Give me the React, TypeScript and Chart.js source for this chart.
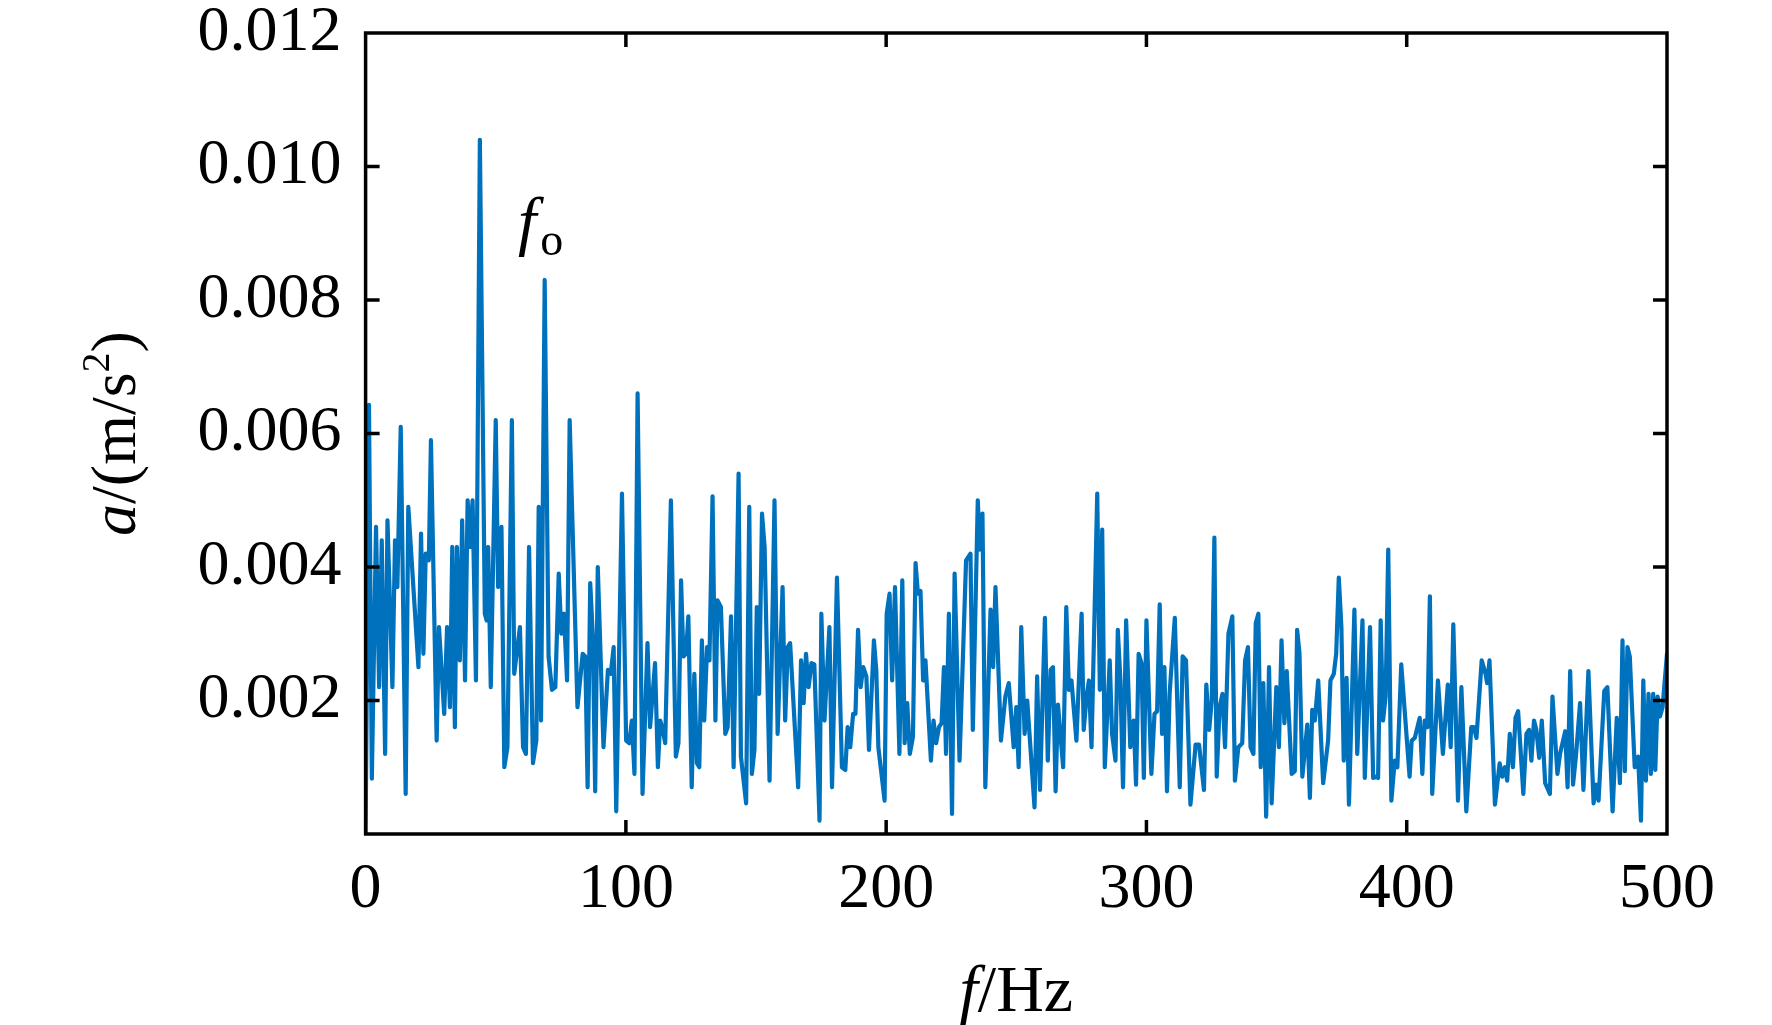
import { useEffect, useRef } from "react"
import { Chart, registerables } from "chart.js"

Chart.register(...registerables)

// Spectrum, in segments. Frequencies in Hz, amplitudes in 1e-3 m/s^2
const hzA = [
  0, 1.3, 2.4, 4.0, 5.2, 6.2, 7.5, 8.4, 10.3, 11.3,
  12.2, 13.5, 15.4, 16.4, 20.3, 21.3, 22.2, 23.1, 24.3, 25.1,
  27.3, 28.2, 30.2, 31.3, 32.4, 33.3, 34.3, 35.1, 36.2, 37.1,
  38.2, 39.2, 40.1, 41.1, 42.4, 43.9, 45.8, 46.5, 47.1, 48.1,
  50.0, 50.9, 52.2, 53.3, 54.5, 56.2, 57.1, 59.3, 60.5, 61.6,
  62.8,
]
const ampA = [
  0, 6.43, 0.83, 4.6, 2.2, 4.4, 1.2, 4.7, 2.2, 4.4,
  3.7, 6.1, 0.6, 4.9, 2.5, 4.5, 2.7, 4.2, 4.1, 5.9,
  1.4, 3.1, 1.8, 3.1, 1.9, 4.3, 1.6, 4.3, 2.6, 4.7,
  2.3, 5.0, 4.3, 5.0, 2.3, 10.4, 3.3, 3.2, 4.3, 2.2,
  6.2, 3.7, 4.6, 1.0, 1.3, 6.2, 2.4, 3.1, 1.3, 1.2,
  4.3,
]
const hzB = [
  64.3, 65.6, 66.5, 67.4, 68.8, 70.3, 71.6, 72.9, 74.2, 75.2,
  76.2, 77.4, 78.4, 81.4, 83.4, 84.4, 85.3, 86.3, 87.3, 88.2,
  89.2, 91.4, 93.1, 94.2, 95.3, 96.3, 98.5, 100.1, 101.3, 102.3,
  103.3, 104.5, 106.4, 108.3, 109.3, 111.2, 112.3, 113.2, 114.2, 115.1,
  117.3, 119.2, 120.2, 121.2, 122.1, 123.1, 124.0, 125.3, 126.3,
]
const ampB = [
  1.06, 1.4, 4.9, 1.7, 8.3, 2.66, 2.16, 2.2, 3.9, 3.0,
  3.3, 2.3, 6.2, 1.9, 2.7, 2.66, 0.7, 3.76, 2.96, 0.64,
  4.0, 1.3, 2.46, 2.4, 2.8, 0.34, 5.1, 1.4, 1.36, 1.7,
  0.9, 6.6, 0.6, 2.86, 1.6, 2.56, 1.0, 1.7, 1.56, 1.36,
  5.0, 1.16, 1.36, 3.8, 2.66, 2.7, 3.26, 0.7, 2.4,
]
const hzC = [
  127.3, 128.2, 129.2, 130.1, 131.2, 132.1, 133.3, 134.4, 135.2, 136.5,
  138.2, 139.1, 140.4, 141.4, 143.3, 144.2, 146.2, 147.4, 148.4, 149.4,
  150.3, 151.2, 152.3, 153.3, 155.2, 157.1, 158.3, 160.2, 161.2, 162.2,
  163.1, 166.2, 167.3, 168.3, 169.2, 170.2, 171.3, 172.4, 174.4, 175.1,
  176.3, 178.2, 179.2, 181.1, 183.0, 184.3, 185.2, 186.2, 187.3, 188.2,
  189.2, 190.2,
]
const ampC = [
  1.06, 1.0, 2.9, 1.7, 2.8, 2.6, 5.06, 1.7, 3.5, 3.4,
  1.5, 1.6, 3.26, 1.0, 5.4, 1.16, 0.46, 4.9, 0.9, 1.26,
  3.4, 2.1, 4.8, 4.3, 0.8, 5.0, 1.5, 3.7, 1.7, 2.8,
  2.86, 0.7, 2.6, 1.96, 2.7, 2.2, 2.56, 2.54, 0.2, 3.3,
  1.7, 3.1, 0.7, 3.84, 1.0, 0.96, 1.6, 1.3, 1.8, 1.8,
  3.06, 2.2,
]
const hzD = [
  191.2, 192.4, 193.4, 195.3, 196.2, 197.0, 199.4, 200.2, 201.3, 202.3,
  203.4, 205.1, 206.2, 207.1, 208.1, 209.1, 210.3, 211.3, 212.2, 213.2,
  214.2, 215.1, 217.2, 218.2, 219.2, 220.3, 221.3, 222.2, 223.0, 224.1,
  225.3, 226.3, 228.2, 230.7, 232.4, 233.3, 235.2, 236.0, 237.0, 238.1,
  240.1, 241.1, 242.0, 244.1, 245.8, 247.1, 249.0, 250.0, 250.9, 251.9,
]
const ampD = [
  2.5, 2.36, 1.26, 2.9, 2.46, 1.3, 0.5, 3.3, 3.6, 2.3,
  3.7, 1.2, 3.8, 1.36, 1.96, 1.2, 1.46, 4.06, 3.6, 3.64,
  2.3, 2.6, 1.1, 1.7, 1.36, 1.6, 1.66, 2.5, 1.2, 3.3,
  0.3, 3.9, 1.1, 4.1, 4.2, 1.56, 5.0, 4.26, 4.8, 0.7,
  3.36, 2.5, 3.7, 1.4, 2.06, 2.26, 1.3, 1.9, 1.0, 3.1,
]
const hzE = [
  253.2, 254.2, 257.0, 258.0, 259.1, 261.0, 262.1, 263.2, 264.1, 265.1,
  266.0, 268.0, 269.2, 270.2, 271.2, 273.1, 275.1, 275.9, 277.0, 277.9,
  278.9, 281.1, 282.1, 283.0, 284.0, 285.9, 286.8, 288.1, 289.0, 290.0,
  291.0, 292.2, 293.8, 295.1, 296.0, 297.0, 298.1, 299.0, 300.0, 301.9,
  303.1, 304.1, 305.1, 306.0, 306.9, 307.9, 308.9, 310.9, 312.8, 313.9,
  315.2,
]
const ampE = [
  1.5, 2.0, 0.4, 2.36, 0.66, 3.24, 1.1, 2.46, 2.5, 0.64,
  1.94, 1.0, 3.4, 2.16, 2.3, 1.4, 3.3, 1.56, 2.06, 2.3,
  1.3, 5.1, 2.16, 4.56, 1.0, 2.6, 1.5, 1.1, 3.06, 2.3,
  0.7, 3.2, 1.3, 1.7, 0.74, 2.7, 2.56, 0.84, 3.2, 0.9,
  1.8, 1.84, 3.44, 1.5, 2.5, 0.64, 2.1, 3.24, 0.7, 2.66,
  2.6,
]
const hzF = [
  316.9, 318.9, 320.2, 322.1, 323.0, 324.1, 325.1, 326.1, 327.0, 328.1,
  329.2, 330.2, 331.5, 333.0, 334.0, 335.3, 336.8, 337.9, 339.0, 340.0,
  341.1, 342.0, 343.0, 343.9, 344.9, 346.0, 347.1, 348.1, 349.9, 350.9,
  351.9, 353.0, 353.9, 355.8, 357.0, 357.9, 358.8, 359.9, 361.8, 362.8,
  363.7, 364.7, 366.0, 367.9, 369.8, 370.7, 372.0, 372.9, 373.9, 374.9,
  375.8, 376.9, 377.8, 379.9, 381.0,
]
const ampF = [
  0.44, 1.34, 1.34, 0.66, 2.24, 1.56, 2.0, 4.44, 0.86, 1.9,
  2.1, 1.3, 3.0, 3.26, 0.8, 1.3, 1.36, 2.6, 2.8, 1.3,
  1.2, 3.16, 3.3, 1.0, 2.26, 0.26, 2.5, 0.46, 2.2, 1.3,
  2.9, 1.66, 2.44, 0.9, 0.94, 3.06, 2.7, 0.86, 1.64, 0.54,
  1.86, 1.7, 2.3, 0.76, 1.4, 2.3, 2.4, 2.7, 3.84, 3.1,
  1.1, 2.34, 0.44, 3.36, 1.2,
]
const hzG = [
  383.0, 383.9, 385.9, 387.1, 388.1, 389.0, 390.0, 390.9, 391.9, 392.9,
  394.1, 395.4, 396.4, 397.9, 401.1, 401.9, 403.1, 405.0, 406.0, 406.9,
  407.9, 408.9, 409.8, 412.0, 413.9, 415.8, 416.9, 417.9, 419.7, 421.0,
  422.9, 424.8, 425.8, 426.8, 428.8, 430.3, 430.9, 431.8, 433.9, 435.7,
  436.7, 437.7, 438.6, 439.6, 440.8, 441.8, 442.8,
]
const ampG = [
  3.2, 0.84, 3.1, 0.84, 0.86, 0.84, 3.2, 1.7, 2.06, 4.26,
  0.5, 1.1, 1.0, 2.54, 0.86, 1.4, 1.44, 1.74, 0.9, 1.7,
  1.6, 3.56, 0.6, 2.3, 1.2, 2.24, 1.3, 3.14, 0.5, 2.2,
  0.34, 1.6, 1.6, 1.44, 2.6, 2.4, 2.26, 2.6, 0.44, 1.06,
  0.86, 1.0, 0.8, 1.5, 1.0, 1.74, 1.84,
]
const hzH = [
  444.8, 446.0, 447.0, 447.9, 448.9, 449.8, 450.9, 451.9, 453.2, 455.0,
  456.0, 457.9, 458.9, 460.9, 461.8, 462.8, 463.9, 465.0, 466.6, 467.9,
  469.8, 471.8, 472.7, 473.7, 475.9, 477.1, 479.1, 480.7, 481.9, 482.9,
  483.8, 484.8, 485.7, 487.6, 488.9, 490.0, 490.9, 491.9, 492.9, 493.8,
  494.7, 495.5, 496.4, 497.3, 498.3, 500.0,
]
const ampH = [
  0.6, 1.5, 1.56, 1.1, 1.7, 1.56, 1.14, 1.7, 0.76, 0.6,
  2.06, 0.9, 1.2, 1.54, 0.7, 2.44, 0.74, 1.16, 1.96, 0.66,
  2.44, 0.46, 0.74, 0.5, 2.14, 2.2, 0.34, 1.74, 0.76, 2.9,
  0.94, 2.8, 2.66, 1.0, 1.16, 0.2, 2.3, 0.8, 2.1, 0.9,
  2.1, 0.96, 2.06, 1.76, 1.9, 2.7,
]

const xTicks = [0, 100, 200, 300, 400, 500]
const yTicks = [0.002, 0.004, 0.006, 0.008, 0.01, 0.012]
const yTickLabels = ["0.002", "0.004", "0.006", "0.008", "0.010", "0.012"]

const SERIF = "'Liberation Serif', 'Times New Roman', serif"
const LINE_BLUE = "#0072BD"
const TICK_LEN = 14

type Run = { text: string; font: string; dy?: number }

function drawRuns(ctx: CanvasRenderingContext2D, runs: Run[], cx: number, y: number) {
  let total = 0
  for (const r of runs) {
    ctx.font = r.font
    total += ctx.measureText(r.text).width
  }
  let x = cx - total / 2
  for (const r of runs) {
    ctx.font = r.font
    ctx.fillText(r.text, x, y + (r.dy || 0))
    x += ctx.measureText(r.text).width
  }
}

// box, inward ticks on all four sides, axis titles and the f_o note
const framePlugin = {
  id: "frame",
  afterDraw(chart: any) {
    const { ctx, chartArea, scales } = chart
    const { left, right, top, bottom } = chartArea
    const x = scales.x
    const y = scales.y
    ctx.save()
    ctx.strokeStyle = "#000"
    ctx.lineWidth = 3.5
    ctx.beginPath()
    for (const v of xTicks) {
      if (v <= x.min || v >= x.max) continue
      const px = x.getPixelForValue(v)
      ctx.moveTo(px, bottom)
      ctx.lineTo(px, bottom - TICK_LEN)
      ctx.moveTo(px, top)
      ctx.lineTo(px, top + TICK_LEN)
    }
    for (const v of yTicks) {
      if (v <= y.min || v >= y.max - 1e-9) continue
      const py = y.getPixelForValue(v)
      ctx.moveTo(left, py)
      ctx.lineTo(left + TICK_LEN, py)
      ctx.moveTo(right, py)
      ctx.lineTo(right - TICK_LEN, py)
    }
    ctx.stroke()
    ctx.lineJoin = "miter"
    ctx.strokeRect(left, top, right - left, bottom - top)

    ctx.fillStyle = "#000"
    ctx.textAlign = "left"
    ctx.textBaseline = "alphabetic"

    // x title: f/Hz
    drawRuns(
      ctx,
      [
        { text: "f", font: `italic 66px ${SERIF}` },
        { text: "/Hz", font: `66px ${SERIF}` },
      ],
      (left + right) / 2,
      1011
    )

    // y title: a/(m/s²)
    ctx.save()
    ctx.translate(135, (top + bottom) / 2)
    ctx.rotate(-Math.PI / 2)
    drawRuns(
      ctx,
      [
        { text: "a", font: `italic 64px ${SERIF}` },
        { text: "/(m/s", font: `64px ${SERIF}` },
        { text: "2", font: `40px ${SERIF}`, dy: -26 },
        { text: ")", font: `64px ${SERIF}` },
      ],
      0,
      0
    )
    ctx.restore()

    // peak note f_o
    ctx.font = `italic 66px ${SERIF}`
    ctx.fillText("f", 518, 243)
    const fw = ctx.measureText("f").width
    ctx.font = `46px ${SERIF}`
    ctx.fillText("o", 518 + fw + 4, 255)

    ctx.restore()
  },
}

export default function App() {
  const canvasRef = useRef<HTMLCanvasElement>(null)

  useEffect(() => {
    if (!canvasRef.current) return

    const hz = [...hzA, ...hzB, ...hzC, ...hzD, ...hzE, ...hzF, ...hzG, ...hzH]
    const amp = [...ampA, ...ampB, ...ampC, ...ampD, ...ampE, ...ampF, ...ampG, ...ampH]
    const points = hz.map((f, i) => ({ x: f, y: amp[i] / 1000 }))

    const tickFont = { family: SERIF, size: 64 }

    const chart = new Chart(canvasRef.current, {
      type: "line",
      data: {
        datasets: [
          {
            data: points,
            borderColor: LINE_BLUE,
            borderWidth: 4.2,
            borderJoinStyle: "round",
            borderCapStyle: "round",
            pointRadius: 0,
            tension: 0,
            fill: false,
          },
        ],
      },
      options: {
        animation: false,
        responsive: true,
        maintainAspectRatio: false,
        layout: { padding: { left: 0, top: 33, right: 105, bottom: 0 } },
        plugins: {
          legend: { display: false },
          tooltip: { enabled: false },
        },
        scales: {
          x: {
            type: "linear",
            min: 0,
            max: 500,
            grid: { display: false, drawTicks: false },
            border: { display: false },
            afterBuildTicks: (s: any) => {
              s.ticks = xTicks.map((v) => ({ value: v }))
            },
            afterFit: (s: any) => {
              s.height = 191
              s.paddingLeft = 0
              s.paddingRight = 0
            },
            ticks: {
              font: tickFont,
              color: "#000",
              padding: 18,
              maxRotation: 0,
              autoSkip: false,
              callback: (v: any) => String(v),
            },
          },
          y: {
            type: "linear",
            min: 0,
            max: 0.012,
            grid: { display: false, drawTicks: false },
            border: { display: false },
            afterBuildTicks: (s: any) => {
              s.ticks = yTicks.map((v) => ({ value: v }))
            },
            afterFit: (s: any) => {
              s.width = 365.6
              s.paddingTop = 0
              s.paddingBottom = 0
            },
            ticks: {
              font: tickFont,
              color: "#000",
              padding: 24,
              autoSkip: false,
              callback: (v: any) => {
                const i = yTicks.findIndex((t) => Math.abs(t - v) < 1e-9)
                return i >= 0 ? yTickLabels[i] : ""
              },
            },
          },
        },
      },
      plugins: [framePlugin],
    })

    return () => {
      chart.destroy()
    }
  }, [])

  return (
    <div style={{ position: "absolute", left: 0, top: 0, width: 1772, height: 1025, background: "#fff" }}>
      <canvas ref={canvasRef}></canvas>
    </div>
  )
}
